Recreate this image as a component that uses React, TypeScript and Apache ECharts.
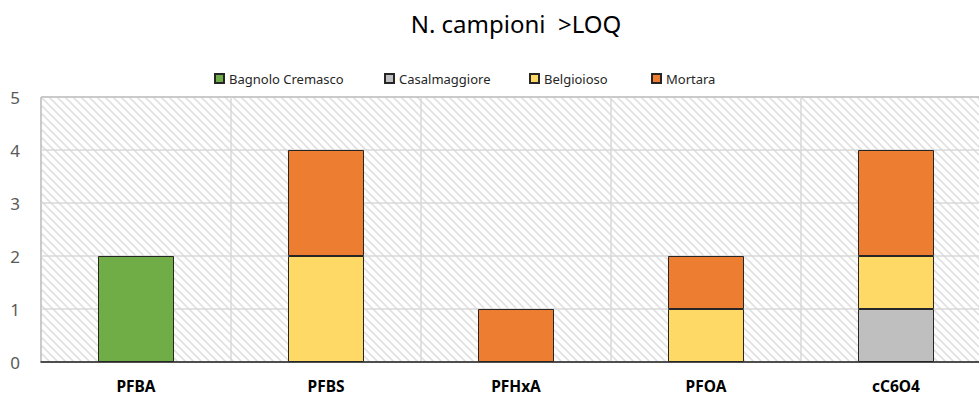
import React, { useEffect, useRef } from 'react';
import * as echarts from 'echarts';

// Sampling results: number of samples above the limit of quantification
const categories = ['PFBA', 'PFBS', 'PFHxA', 'PFOA', 'cC6O4'];
const bagnoloCremasco = [2, 0, 0, 0, 0];
const casalmaggiore = [0, 0, 0, 0, 1];
const belgioioso = [0, 2, 0, 1, 1];
const mortara = [0, 2, 1, 1, 2];

const siteNames = ['Bagnolo Cremasco', 'Casalmaggiore', 'Belgioioso', 'Mortara'];
const siteValues = [bagnoloCremasco, casalmaggiore, belgioioso, mortara];
const siteColors = ['#70AD47', '#BFBFBF', '#FFD966', '#ED7D31'];
const legendLefts = [214, 384, 529, 651];

const yMin = 0;
const yMax = 5;
const yStep = 1;

const FONT = '"Noto Sans", "DejaVu Sans", sans-serif';

// Light diagonal hatch used as the plot-area fill
function makeHatch(): HTMLCanvasElement {
  const c = document.createElement('canvas');
  c.width = 8;
  c.height = 8;
  const ctx = c.getContext('2d')!;
  ctx.fillStyle = '#ffffff';
  ctx.fillRect(0, 0, 8, 8);
  ctx.strokeStyle = '#e0e0e0';
  ctx.lineWidth = 1.6;
  ctx.beginPath();
  ctx.moveTo(-2, -2);
  ctx.lineTo(10, 10);
  ctx.moveTo(-2, 6);
  ctx.lineTo(2, 10);
  ctx.moveTo(6, -2);
  ctx.lineTo(10, 2);
  ctx.stroke();
  return c;
}

export default function App() {
  const ref = useRef<HTMLDivElement>(null);

  useEffect(() => {
    document.body.style.margin = '0';
    document.body.style.overflow = 'hidden';
    if (!ref.current) return;
    const chart = echarts.init(ref.current, null, { renderer: 'svg' });

    const series = siteNames.map((name, i) => ({
      name,
      type: 'bar',
      stack: 'total',
      barWidth: 76,
      data: siteValues[i].map((v) => (v === 0 ? null : v)),
      itemStyle: { color: siteColors[i], borderColor: '#262626', borderWidth: 1 },
    }));

    const legends = siteNames.map((name, i) => ({
      data: [name],
      left: legendLefts[i],
      top: 72,
      padding: 0,
      icon: 'rect',
      itemWidth: 9,
      itemHeight: 9,
      itemGap: 0,
      selectedMode: false,
      textStyle: { fontFamily: FONT, fontSize: 13, color: '#262626' },
    }));

    chart.setOption({
      animation: false,
      backgroundColor: '#ffffff',
      title: {
        text: 'N. campioni  >LOQ',
        left: 511,
        top: 6,
        textAlign: 'center',
        textStyle: { fontFamily: FONT, fontSize: 24, fontWeight: 'normal', color: '#000000' },
      },
      legend: legends,
      grid: {
        left: 41,
        top: 97,
        width: 950,
        height: 265,
        show: true,
        borderColor: '#404040',
        borderWidth: 1,
        backgroundColor: { image: makeHatch(), repeat: 'repeat' },
      },
      xAxis: {
        type: 'category',
        data: categories,
        axisLine: { lineStyle: { color: '#262626', width: 1.5 } },
        axisTick: { show: false },
        axisLabel: {
          fontFamily: FONT,
          fontSize: 15.5,
          lineHeight: 14,
          fontWeight: 'bold',
          color: '#000000',
          margin: 17,
        },
        splitLine: { show: true, lineStyle: { color: '#d9d9d9', width: 1.5 } },
      },
      yAxis: {
        type: 'value',
        min: yMin,
        max: yMax,
        interval: yStep,
        axisLine: { show: false },
        axisTick: { show: false },
        axisLabel: { fontFamily: FONT, fontSize: 17, color: '#595959', margin: 21 },
        splitLine: { lineStyle: { color: '#d9d9d9', width: 1.5 } },
      },
      series,
    });

    return () => chart.dispose();
  }, []);

  // The plot area runs past the right edge of the visible frame
  return (
    <div style={{ width: 979, height: 396, overflow: 'hidden', position: 'relative' }}>
      <div ref={ref} style={{ width: 1000, height: 396 }} />
    </div>
  );
}
